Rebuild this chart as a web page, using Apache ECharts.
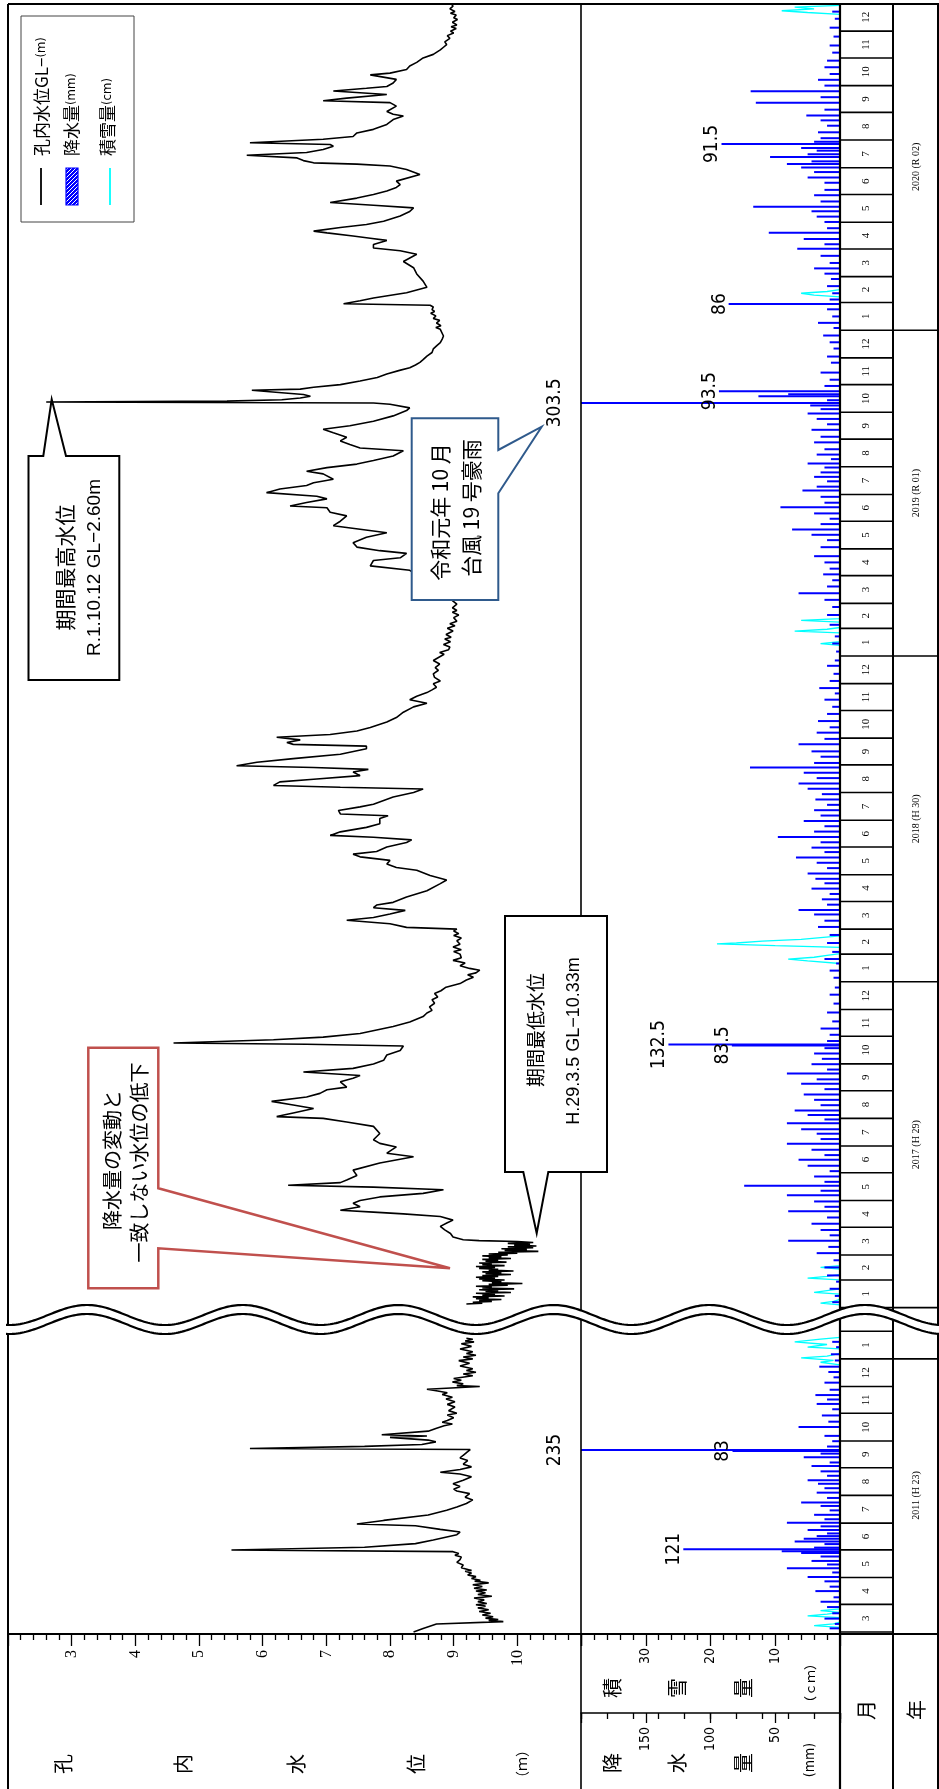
<!DOCTYPE html>
<html><head><meta charset="utf-8">
<script src="https://cdn.jsdelivr.net/npm/echarts@6/dist/echarts.min.js"></script>
<style>html,body{margin:0;padding:0;background:#fff;overflow:hidden}#c{width:939px;height:1789px}</style>
</head><body><div id="c"></div>
<script>
// ---------------- DATA ----------------
const WL_TICKS = [3, 4, 5, 6, 7, 8, 9, 10];
const PRECIP_TICKS = [50, 100, 150];
const SNOW_TICKS = [10, 20, 30];
const MONTH_NAMES = ['1','2','3','4','5','6','7','8','9','10','11','12'];
const YEAR_LABELS = {2011: '2011 (H 23)', 2017: '2017 (H 29)', 2018: '2018 (H 30)', 2019: '2019 (R 01)', 2020: '2020 (R 02)'};

// water level GL-(m); lower segment: [days after 2011-03-01, m]
const levelLower = [[0,8.37],[4,8.52],[9,8.73],[11.6,9.78],[13,9.55],[14,9.70],[15.5,9.50],[17,9.62],[19,9.45],[21,9.58],[23,9.40],[25,9.55],[27,9.38],[29,9.50],[30.5,9.35],[32,9.52],[34,9.38],[36,9.48],[38,9.32],[40,9.60],[42,9.38],[44,9.50],[46,9.35],[47,9.52],[49,9.32],[51,9.45],[53,9.30],[55,9.55],[57,9.33],[58,9.42],[60,9.28],[62,9.35],[64,9.22],[66,9.28],[68,9.18],[69,9.28],[72,9.12],[75,9.15],[78,9.05],[81,9.10],[84,9.12],[86,9.02],[88,9.08],[90,8.99],[91.8,5.51],[95,7.60],[99,8.40],[103,8.68],[109,9.05],[112,9.10],[115,8.79],[119,8.40],[121,7.48],[125,7.90],[131,8.60],[136.5,8.89],[140,9.05],[144,9.20],[148,9.30],[151,9.18],[155,9.25],[158,9.05],[160,9.00],[163,9.10],[166,8.99],[170,9.15],[174,9.28],[177,9.10],[179,8.79],[182,9.10],[185,9.28],[188,9.15],[192,9.22],[195,9.10],[198,9.15],[202,9.22],[204.4,9.26],[205.6,5.80],[208,7.60],[210,8.50],[213,8.72],[215,8.60],[218,8.00],[219.5,8.58],[221,7.87],[225,8.60],[228,8.72],[231,8.85],[233,8.98],[235,8.82],[237,8.90],[240,9.00],[243,8.90],[245,9.05],[248,8.92],[252,9.02],[255,8.90],[258,9.02],[261,8.88],[263,8.98],[266,8.82],[268,8.90],[270,8.75],[272,8.58],[275,9.41],[276,9.05],[278,9.15],[280,8.98],[282,9.12],[284,9.00],[287,9.30],[289,9.15],[291,9.35],[293,9.20],[295,9.30],[298,9.10],[301,9.25],[304,9.08],[306,9.30],[308,9.15],[310,9.35],[312,9.20],[314,9.30],[317,9.10],[320,9.28],[323,9.12],[325,9.32],[326,9.18],[328,9.30],[329,9.20]];
// upper segment: [day of year, m]
const level2017 = [[4,9.20],[5,9.45],[6,9.30],[7,9.60],[8,9.40],[9,9.75],[10,9.35],[11,9.55],[12,9.30],[13,9.80],[14,9.45],[15,9.65],[16,9.35],[17,9.90],[18,9.50],[19,9.70],[20,9.40],[21,9.95],[22,9.45],[23,9.60],[24,9.35],[25,9.85],[26,9.55],[27,10.08],[28,9.60],[29,9.75],[30,9.45],[31,9.80],[32,9.40],[33,9.65],[34,9.35],[35,9.70],[36,9.45],[37,9.90],[38,9.50],[39,9.75],[40,9.45],[41,9.94],[42,9.55],[43,9.70],[44,9.40],[45,9.65],[46,9.35],[47,9.80],[48,9.45],[49,9.60],[50,9.40],[51,9.83],[52,9.50],[53,9.70],[54,9.45],[55,9.90],[56,9.55],[57,9.75],[58,9.45],[59,9.85],[60,9.55],[61,10.00],[62,9.70],[63,10.33],[64,9.80],[65,10.15],[66,9.75],[67,10.25],[68,9.85],[69,10.30],[70,9.95],[71,10.20],[72,9.85],[73,10.25],[74,10.00],[75,9.40],[76,9.15],[79,8.99],[83,8.95],[87,8.86],[91,8.79],[95,8.90],[98,8.99],[102,8.79],[105,8.21],[107,7.74],[109,7.22],[113,7.53],[117,7.42],[120,7.53],[124,7.84],[128,8.52],[132,8.84],[135,7.74],[137,6.40],[140,7.22],[143,7.32],[148,7.48],[154,7.42],[162,7.84],[169,8.37],[173,7.95],[180,8.10],[184,7.84],[188,7.74],[195,7.84],[203,7.74],[208,7.32],[212,6.95],[214,6.22],[218,6.48],[223,6.80],[227,6.48],[231,6.14],[236,6.69],[240,6.90],[244,7.01],[247,7.32],[253,7.22],[257,7.42],[260,7.53],[264,6.64],[268,7.42],[273,7.74],[277,7.90],[283,7.95],[288,8.16],[293,8.21],[295,6.69],[296.5,4.60],[300,6.17],[303,6.95],[307,7.53],[311,7.79],[315,8.05],[320,8.31],[326,8.52],[330,8.58],[333,8.66],[337,8.62],[341,8.70],[345,8.66],[348,8.75],[352,8.70],[355,8.80],[359,8.88],[363,9.10]];
const level2018 = [[2,9.20],[5,9.31],[8,9.22],[10,9.35],[13,9.41],[15,9.25],[18,9.10],[21,9.18],[24,8.99],[27,9.12],[31,9.10],[34,9.00],[36,9.12],[39,8.99],[42,9.10],[46,9.05],[49,9.12],[52,9.00],[54,9.08],[57,9.00],[59,9.05],[61,8.26],[65,8.00],[69,7.32],[72,7.74],[76,8.00],[80,8.24],[83,7.74],[86,7.79],[89,8.05],[95,8.26],[102,8.58],[110,8.79],[114,8.89],[119,8.63],[125,8.42],[128,8.10],[132,7.95],[136,8.00],[140,7.53],[143,7.42],[146,7.79],[151,7.95],[156,8.26],[159,8.34],[162,7.74],[164,7.06],[168,7.22],[173,7.63],[177,7.84],[183,7.84],[186,7.97],[188,7.22],[192,7.19],[196,7.53],[199,7.74],[207,8.05],[212,8.37],[216,8.52],[218,7.22],[220,6.17],[224,6.27],[227,6.80],[231,7.53],[235,7.42],[238,7.66],[240,6.80],[242,5.59],[246,5.91],[250,6.48],[255,7.22],[261,7.63],[264,7.63],[266,6.48],[268,6.38],[271,6.59],[274,6.22],[277,7.06],[281,7.48],[285,7.69],[291,7.95],[296,8.10],[302,8.21],[308,8.37],[312,8.58],[316,8.31],[320,8.42],[324,8.58],[327,8.66],[330,8.73],[334,8.68],[337,8.79],[341,8.70],[345,8.68],[349,8.76],[352,8.71],[356,8.78],[360,8.68]];
const level2019 = [[2,8.85],[4,8.78],[7,8.92],[10,8.94],[13,8.84],[16,8.95],[19,8.86],[21,8.96],[24,8.88],[28,8.99],[31,8.90],[34,9.02],[36,8.94],[39,9.05],[43,9.00],[46,9.08],[49,8.98],[51,9.05],[54,8.98],[58,9.05],[62,8.98],[66,9.00],[75,8.90],[85,8.70],[92,8.40],[96,8.31],[101,7.69],[103,7.69],[107,7.74],[110,8.16],[115,8.26],[118,7.84],[122,7.48],[127,7.42],[133,7.63],[138,7.95],[142,7.53],[146,7.11],[151,7.22],[157,7.32],[161,7.06],[166,7.01],[168,6.43],[172,6.69],[176,7.01],[179,6.85],[183,6.06],[187,6.27],[191,6.69],[194,6.80],[198,7.11],[204,6.95],[207,6.69],[211,7.01],[215,7.48],[219,7.74],[224,8.05],[230,8.21],[233,7.53],[237,7.37],[241,7.22],[245,7.32],[250,7.11],[254,6.95],[258,7.37],[263,7.74],[269,8.05],[275,8.26],[278,8.31],[282,8.00],[283.5,7.74],[284.6,2.60],[285.5,5.44],[287,6.30],[289,6.59],[291,6.75],[293,6.64],[295,6.30],[297.7,5.83],[299,6.59],[301,6.80],[304,7.22],[308,7.53],[312,7.80],[316,7.95],[320,8.15],[323,8.31],[326,8.40],[329,8.47],[332,8.52],[336,8.58],[340,8.66],[344,8.68],[348,8.74],[351,8.79],[355,8.82],[358.5,8.84]];
const level2020 = [[1,8.79],[3,8.72],[5,8.80],[8,8.73],[11,8.78],[13,8.68],[16,8.72],[19,8.64],[21,8.70],[23,8.66],[26,8.68],[28,8.63],[29.7,7.27],[33,7.53],[36,7.74],[42,8.26],[48,8.58],[55,8.52],[63,8.42],[70,8.37],[77,8.21],[85,8.42],[89,8.16],[92,7.74],[96,7.74],[100.6,7.95],[103,7.69],[105.5,7.42],[109,7.01],[111,6.80],[115,7.22],[118.5,7.63],[122,7.90],[128,8.16],[133,8.31],[137,8.37],[140,7.74],[143,7.06],[145,7.03],[148,7.48],[152,7.74],[156,7.95],[160,8.10],[163,8.16],[167,8.10],[174.5,8.47],[180,8.26],[184,8.00],[186,7.48],[187.5,6.80],[190,6.64],[193,6.54],[196,5.75],[199,6.69],[202.5,6.95],[206,7.11],[208,7.06],[210,5.80],[214,6.95],[217,7.42],[221,7.48],[225,7.74],[230.5,7.95],[236,8.05],[240,8.21],[242,8.05],[245,7.95],[251,8.10],[255,8.00],[257,6.95],[260,7.32],[264,7.95],[268,7.11],[271,7.63],[273,7.95],[277,8.05],[281,8.10],[286,7.69],[288,8.00],[292,8.26],[296,8.31],[300,8.42],[305,8.52],[309,8.68],[314,8.79],[317,8.84],[320,8.89],[323,8.86],[327,8.94],[330,8.90],[333,9.00],[335,8.95],[338,9.04],[340,8.96],[342,9.05],[345,8.98],[348,9.06],[350,9.00],[353,9.04],[355,8.95],[357,9.02],[360,8.94],[363,8.99],[365,8.97]];

// daily precipitation (mm)
const rainLower = [[3,8],[8,4],[14,12],[20,6],[27,10],[33,15],[38,5],[45,19],[50,8],[56,12],[61,25],[66,6],[70.7,41],[75,10],[79,22],[84,15],[88,30],[90,45],[92.3,121],[94,20],[98,12],[101,35],[104,28],[107,18],[110,10],[114,25],[118,15],[122,41],[126,12],[131,20],[136,8],[141,15],[145,30],[150,10],[156,18],[161,12],[166,17],[170,25],[175,10],[180,15],[186,22],[190,8],[196,28],[200,15],[203,83],[204,235],[208,10],[214,6],[220,12],[230,32],[236,9],[243,14],[250,6],[256,18],[261,10],[266,19],[272,8],[280,12],[286,5],[292,9],[298,16],[305,4],[312,7],[320,3],[326,6]];
const rain2017 = [[5,6],[12,4],[20,8],[28,3],[35,10],[44,12],[52,5],[60,18],[67,9],[74,40],[80,8],[86,15],[93,22],[100,10],[107,40],[112,12],[118,20],[125,41],[130,15],[135.5,74],[140,12],[146,20],[152,8],[158,25],[164.9,32],[170,12],[176,22],[182.8,41],[188,15],[194,18],[199,30],[205.8,41],[210,12],[215,25],[220,35],[226,15],[232,20],[238,28],[244,12],[250,30],[255,18],[261.5,41],[266,10],[272,22],[278,14],[284,20],[290,12],[293,83.5],[294,132.5],[298,10],[305,8],[312,15],[320,6],[330,10],[340,5],[350,8],[358,4]];
const rain2018 = [[4,5],[12,8],[20,3],[25,12],[33,6],[43,10],[52,8],[61,17],[68,12],[75,20],[80,32],[86,10],[92,14],[98,8],[104,22],[110,12],[115,19],[121,25],[127,10],[133,18],[139,34],[145,12],[150,22],[156,15],[162,48],[168,20],[174,12],[180,28],[186,15],[192,20],[198,10],[204,19],[210,14],[216,25],[222,32],[228,18],[234,28],[240,69.5],[245,20],[252,15],[258,22],[266,32],[272,12],[279,18],[285,8],[292,17],[300,10],[308,6],[316,12],[323,4],[329,16],[337,8],[345,5],[354,10],[360,4]];
const rain2019 = [[5,3],[14,6],[22,4],[35,8],[46,10],[55,6],[63,12],[70.4,32],[78,10],[85,6],[91.6,13],[98,8],[105,12],[112,20],[122.1,15],[130,10],[136,22],[141.9,37],[148,15],[154,8],[160,20],[166.8,46],[172,12],[178.6,15],[185.6,29],[190,18],[196,10],[201,20],[206,15],[211.5,12],[216,25],[220.9,7],[226,18],[232,12],[239.7,20],[246,15],[253.8,22],[260,10],[266,18],[272,25],[277,15],[281.1,23],[284,303.5],[287,10],[291.4,63],[293.7,40],[297.1,93.5],[303,12],[310,8],[318,15],[329.1,7],[336,10],[345,5],[352,8],[359.6,13]];
const rain2020 = [[3,5],[8.8,17],[16,6],[24,10],[29.9,86],[35,8],[42,6],[50,10],[58,7],[64,12],[69.9,20],[76,8],[84,15],[91.9,33],[97,12],[102.8,28],[109.8,55],[115,10],[122,12],[128,18],[134,22],[139,67],[145,15],[152,20],[158,12],[166,12],[172,25],[178,20],[183,30],[187,41],[190,22],[195,54],[198,25],[202,18],[205,30],[209.5,91.5],[212,20],[216,15],[222.6,17],[230,10],[236,15],[241.5,26],[248,12],[255.7,65],[262,15],[268.8,69],[275,12],[281.5,17],[288,8],[295.6,12],[303,10],[312,6],[320,8],[330,5],[340,8],[350,4],[358,6]];

// snow depth (cm)
const snowLower = [[4,0],[6,4],[8,1],[10,0],[15,0],[17,5],[19,2],[21,0],[23,3],[25,0],[300,0],[303,3],[305,1],[308,6],[310,2],[313,0],[318,0],[320,5],[323,2],[326,7],[329,3],[331,0]];
const snow2017 = [[2,0],[4,3],[6,1],[8,0],[14,0],[16,4],[18,2],[20,0],[30,0],[32,5],[34,2],[36,0],[42,0],[44,3],[46,0]];
const snow2018 = [[20,0],[23,5],[25,8],[27,4],[29,2],[31,0],[38,0],[40,10],[42,19],[43,16],[45,12],[47,6],[49,3],[51,0]];
const snow2019 = [[12,0],[14,3],[16,0],[26,0],[28,7],[30,2],[32,0],[38,0],[40,6],[42,0]];
const snow2020 = [[38,0],[40,4],[42,6],[44,2],[46,0],[355,0],[357,5],[359,9],[361,4],[363,7],[365,0]];

// ---------------- BUILD ----------------
const DAY = 86400000;
const T = (y, m, d) => new Date(y, m - 1, d).getTime();
const B2011 = T(2011, 3, 1);
const toPts = (base, arr) => arr.map(([d, v]) => [v, base + d * DAY]);
const yearPts = (year, arr) => toPts(T(year, 1, 1), arr);

const U_MAX = T(2021, 1, 1), U_MIN = T(2017, 1, 1) - 11.65 * DAY;
const L_MIN = B2011 - 2.24 * DAY, L_MAX = L_MIN + 354.0 * DAY;

const levelUp = [].concat(yearPts(2017, level2017), yearPts(2018, level2018), yearPts(2019, level2019), yearPts(2020, level2020));
const rainUp = [].concat(yearPts(2017, rain2017), yearPts(2018, rain2018), yearPts(2019, rain2019), yearPts(2020, rain2020));
const snowUp = [].concat(yearPts(2017, snow2017), yearPts(2018, snow2018), yearPts(2019, snow2019), yearPts(2020, snow2020));
const levelLo = toPts(B2011, levelLower), rainLo = toPts(B2011, rainLower), snowLo = toPts(B2011, snowLower);

const TOP = 3.5, BRK = 1318, BOT = 1634;
const X0 = 8, XD = 581, XM = 840, XY = 893, XR = 939;
const NUMF = "'Liberation Sans Narrow','DejaVu Sans Condensed','Liberation Sans',sans-serif";
const JPF = "'Noto Sans CJK JP','Noto Sans CJK SC',sans-serif";

const hiddenX = (g, min, max, inv) => ({gridIndex: g, type: 'value', min, max, inverse: !!inv, show: false});
const tickStyle = {color: '#000', width: 1.3};

const option = {
  animation: false,
  backgroundColor: '#fff',
  grid: [
    {left: X0, top: TOP, width: XD - X0, height: BRK - TOP},
    {left: XD, top: TOP, width: XM - XD, height: BRK - TOP},
    {left: X0, top: BRK, width: XD - X0, height: BOT - BRK},
    {left: XD, top: BRK, width: XM - XD, height: BOT - BRK}
  ],
  xAxis: [
    hiddenX(0, 2, 11),
    hiddenX(1, 0, 200, true),
    hiddenX(1, 0, 40, true),
    {gridIndex: 2, type: 'value', min: 2, max: 11, interval: 1, position: 'bottom',
     axisLine: {show: false}, splitLine: {show: false},
     axisTick: {show: true, length: 12, lineStyle: tickStyle},
     minorTick: {show: true, splitNumber: 5, length: 6, lineStyle: tickStyle},
     axisLabel: {rotate: 90, margin: 16, color: '#000', fontSize: 16, fontFamily: "'Liberation Serif',serif",
       formatter: v => WL_TICKS.includes(v) ? String(v) : ''}},
    {gridIndex: 3, type: 'value', min: 0, max: 200, inverse: true, interval: 50, position: 'bottom', offset: 79,
     axisLine: {show: true, lineStyle: {color: '#000', width: 1.5}}, splitLine: {show: false},
     axisTick: {show: true, length: 10, lineStyle: tickStyle},
     axisLabel: {rotate: 90, margin: 14, color: '#000', fontSize: 14, fontFamily: NUMF,
       formatter: v => PRECIP_TICKS.includes(v) ? String(v) : ''}},
    {gridIndex: 3, type: 'value', min: 0, max: 40, inverse: true, interval: 10, position: 'bottom', offset: 0,
     axisLine: {show: false}, splitLine: {show: false},
     axisTick: {show: true, length: 12, lineStyle: tickStyle},
     minorTick: {show: true, splitNumber: 5, length: 6, lineStyle: tickStyle},
     axisLabel: {rotate: 90, margin: 14, color: '#000', fontSize: 14, fontFamily: NUMF,
       formatter: v => SNOW_TICKS.includes(v) ? String(v) : ''}},
    {gridIndex: 3, type: 'value', min: 0, max: 200, inverse: true, interval: 20, position: 'bottom', offset: 79,
     axisLine: {show: false}, splitLine: {show: false}, axisLabel: {show: false},
     axisTick: {show: true, length: 6, lineStyle: tickStyle}}
  ],
  yAxis: [
    {gridIndex: 0, type: 'time', min: U_MIN, max: U_MAX, show: false},
    {gridIndex: 1, type: 'time', min: U_MIN, max: U_MAX, show: false},
    {gridIndex: 2, type: 'time', min: L_MIN, max: L_MAX, show: false},
    {gridIndex: 3, type: 'time', min: L_MIN, max: L_MAX, show: false}
  ],
  series: [
    {name: '降水量', type: 'bar', xAxisIndex: 1, yAxisIndex: 1, data: rainUp, barWidth: 2, itemStyle: {color: '#0000ff'}, z: 3},
    {name: '積雪量', type: 'line', xAxisIndex: 2, yAxisIndex: 1, data: snowUp, showSymbol: false, lineStyle: {color: '#00ffff', width: 1.3}, z: 2},
    {name: '孔内水位', type: 'line', xAxisIndex: 0, yAxisIndex: 0, data: levelUp, showSymbol: false, lineStyle: {color: '#000', width: 1.6}, z: 4},
    {name: '降水量', type: 'bar', xAxisIndex: 4, yAxisIndex: 3, data: rainLo, barWidth: 2, itemStyle: {color: '#0000ff'}, z: 3},
    {name: '積雪量', type: 'line', xAxisIndex: 5, yAxisIndex: 3, data: snowLo, showSymbol: false, lineStyle: {color: '#00ffff', width: 1.3}, z: 2},
    {name: '孔内水位', type: 'line', xAxisIndex: 3, yAxisIndex: 2, data: levelLo, showSymbol: false, lineStyle: {color: '#000', width: 1.6}, z: 4}
  ]
};

const chart = echarts.init(document.getElementById('c'), null, {width: 939, height: 1789});
chart.setOption(option);

// ---------------- DECORATION ----------------
const G = [];
const ln = (x1, y1, x2, y2, w, c, z) => G.push({type: 'line', silent: true, z: z || 20, shape: {x1, y1, x2, y2}, style: {stroke: c || '#000', lineWidth: w || 1.5}});
const vtext = (x, y, text, font, extra, z) => G.push({type: 'text', silent: true, z: z || 60, x, y, rotation: Math.PI / 2,
  style: Object.assign({text, font, fill: '#000', align: 'center', verticalAlign: 'middle'}, extra || {})});
const poly = (pts, stroke, w, z) => G.push({type: 'polygon', silent: true, z: z || 50, shape: {points: pts}, style: {fill: '#fff', stroke, lineWidth: w}});

// frame
ln(X0, 4, X0, 1789, 2); ln(X0, 4, XR, 4, 2); ln(XR - 1, 4, XR - 1, 1789, 2);
ln(X0, BOT, XR, BOT, 2.2);
ln(XD, 4, XD, 1789, 1.6); ln(XM, 4, XM, 1789, 2.2); ln(XY, 4, XY, 1789, 2);

// month / year table
const yU = t => chart.convertToPixel({yAxisIndex: 0}, t);
const yL = t => chart.convertToPixel({yAxisIndex: 2}, t);
function monthTable(py, startY, startM, endY, endM) {
  let y = startY, m = startM;
  while (y < endY || (y === endY && m <= endM)) {
    const a = py(T(y, m, 1)), b = py(T(y, m + 1, 1));
    ln(XM, a, m === 1 ? XR : XY, a, 1.6, '#000', 25);
    if (b >= TOP) vtext((XM + XY) / 2, (a + b) / 2, MONTH_NAMES[m - 1], "11px 'Liberation Serif',serif");
    m++; if (m > 12) { m = 1; y++; }
  }
}
monthTable(yL, 2011, 3, 2012, 1);
ln(XM, yL(T(2012, 2, 1)), XY, yL(T(2012, 2, 1)), 1.6, '#000', 25);
monthTable(yU, 2017, 1, 2020, 12);
vtext((XY + XR) / 2, (yL(T(2011, 3, 1)) + yL(T(2012, 1, 1))) / 2, YEAR_LABELS[2011], "10px 'Liberation Serif',serif");
[2017, 2018, 2019, 2020].forEach(yr => vtext((XY + XR) / 2, (yU(T(yr, 1, 1)) + yU(T(yr + 1, 1, 1))) / 2, YEAR_LABELS[yr], "10px 'Liberation Serif',serif"));

// axis titles
[['孔', 63], ['内', 183], ['水', 296], ['位', 416]].forEach(([c, x]) => vtext(x, 1764, c, '20px ' + JPF));
vtext(522, 1764, '（ｍ）', '14px ' + JPF);
[['積', 612], ['雪', 677], ['量', 743]].forEach(([c, x]) => vtext(x, 1688, c, '20px ' + JPF));
vtext(810, 1683, '（ｃｍ）', '13px ' + JPF);
[['降', 612], ['水', 677], ['量', 743]].forEach(([c, x]) => vtext(x, 1763, c, '20px ' + JPF));
vtext(810, 1760, '(mm)', '14px ' + NUMF);
vtext(866, 1710, '月', '20px ' + JPF);
vtext(916, 1710, '年', '20px ' + JPF);

// precipitation value labels (bars of 80 mm or more)
const labelBars = (arr, base, xi, yi) => {
  arr.forEach(([d, mm]) => {
    if (mm < 80) return;
    const t = base + d * DAY;
    const px = chart.convertToPixel({xAxisIndex: xi}, Math.min(mm, 200));
    const py = chart.convertToPixel({yAxisIndex: yi}, t);
    const x = mm > 200 ? px - 26 : px - 9;
    vtext(x, py, String(mm), '19px ' + NUMF, null, 40);
  });
};
labelBars(rainLower, B2011, 4, 3);
[[2017, rain2017], [2018, rain2018], [2019, rain2019], [2020, rain2020]].forEach(([yr, arr]) => labelBars(arr, T(yr, 1, 1), 1, 1));

// callouts
poly([[28.5, 456], [43.3, 456], [51.7, 399.3], [66, 456], [119.3, 456], [119.3, 680], [28.5, 680]], '#000', 2);
vtext(65, 567.5, '期間最高水位', '21px ' + JPF);
vtext(95, 567.5, 'R.1.10.12 GL−2.60m', "19px 'Liberation Sans',sans-serif");
poly([[411.7, 418.3], [498.3, 418.3], [498.3, 450], [541.7, 426.7], [498.3, 493.3], [498.3, 600], [411.7, 600]], '#2f5a8c', 2);
vtext(440, 512, '令和元年 10 月', '21px ' + JPF);
vtext(471, 508, '台風 19 号豪雨', '21px ' + JPF);
poly([[505, 916], [607, 916], [607, 1172], [548.3, 1172], [536.7, 1233.3], [523.3, 1172], [505, 1172]], '#000', 2);
vtext(536, 1030, '期間最低水位', '19px ' + JPF);
vtext(574, 1041, 'H.29.3.5 GL−10.33m', "18px 'Liberation Sans',sans-serif");
poly([[88.3, 1047.7], [158.3, 1047.7], [158.3, 1188.3], [450, 1268.3], [158.3, 1248.3], [158.3, 1288.3], [88.3, 1288.3]], '#c0504d', 2.5);
vtext(112.5, 1160, '降水量の変動と', '20px ' + JPF);
vtext(139, 1162.5, '一致しない水位の低下', '20px ' + JPF);

// legend
G.push({type: 'rect', silent: true, z: 50, shape: {x: 21, y: 16, width: 113, height: 206}, style: {fill: '#fff', stroke: '#444', lineWidth: 1}});
const pc = document.createElement('canvas'); pc.width = 4; pc.height = 4;
const pctx = pc.getContext('2d'); pctx.fillStyle = '#0000ff'; pctx.fillRect(0, 0, 4, 4);
pctx.strokeStyle = '#ffffff'; pctx.lineWidth = 1; pctx.beginPath(); pctx.moveTo(0, 4); pctx.lineTo(4, 0); pctx.stroke();
ln(41, 168, 41, 205, 1.8, '#000', 55);
G.push({type: 'rect', silent: true, z: 55, shape: {x: 66, y: 168, width: 12, height: 37}, style: {fill: {image: pc, repeat: 'repeat'}, stroke: '#0000ff', lineWidth: 1.2}});
ln(110, 168, 110, 205, 1.8, '#00ffff', 55);
const legText = (x, main, unit) => G.push({type: 'text', silent: true, z: 60, x, y: 156, rotation: Math.PI / 2,
  style: {text: '{a|' + main + '}{b|' + unit + '}', align: 'left', verticalAlign: 'middle', fill: '#000',
    rich: {a: {font: '17px ' + JPF, fill: '#000'}, b: {font: '13px ' + NUMF, fill: '#000'}}}});
legText(42, '孔内水位GL−', '(m)');
legText(72, '降水量', '(mm)');
legText(108, '積雪量', '(cm)');

// break wave
const wave = off => { const p = []; for (let x = X0 - 2; x <= XR + 2; x += 2) p.push([x, 1315 + off - 10 * Math.cos(2 * Math.PI * (x - 87) / 155.6)]); return p; };
const w1 = wave(0), w2 = wave(9);
G.push({type: 'polygon', silent: true, z: 90, shape: {points: w1.concat(w2.slice().reverse())}, style: {fill: '#fff', stroke: null}});
G.push({type: 'polyline', silent: true, z: 91, shape: {points: w1}, style: {stroke: '#000', lineWidth: 2.2, fill: null}});
G.push({type: 'polyline', silent: true, z: 91, shape: {points: w2}, style: {stroke: '#000', lineWidth: 2.2, fill: null}});

chart.setOption({graphic: {elements: G}});
</script></body></html>
